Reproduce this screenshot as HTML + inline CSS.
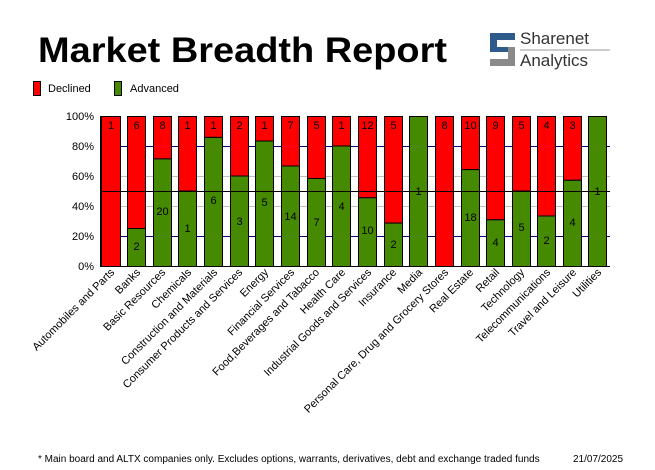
<!DOCTYPE html>
<html><head><meta charset="utf-8"><style>
body{margin:0;background:#fff;}
svg{display:block;font-family:"Liberation Sans",sans-serif;}
</style></head><body>
<svg width="655" height="470" viewBox="0 0 655 470" xmlns="http://www.w3.org/2000/svg">
<rect width="655" height="470" fill="#fff"/>
<text x="38" y="62" font-size="35" font-weight="bold" fill="#000" textLength="409" lengthAdjust="spacingAndGlyphs">Market Breadth Report</text>
<!-- logo -->
<g>
<path d="M490 33 H515 V40 H497 V47 H515 V66 H490 V59 H508 V52 H490 Z" fill="#2f5b8c"/>
<path d="M497 40 H515 V47 H497 Z" fill="#fff"/>
<rect x="490" y="59" width="25" height="7" fill="#8a8a8a"/>
<rect x="508" y="47" width="7" height="19" fill="#8a8a8a"/>
</g>
<text x="520" y="44" font-size="17" fill="#333">Sharenet</text>
<line x1="520" y1="50" x2="610" y2="50" stroke="#999" stroke-width="1"/>
<text x="520" y="66" font-size="17" fill="#333">Analytics</text>
<!-- legend -->
<rect x="33.5" y="81.5" width="7" height="14" fill="#ff0000" stroke="#000"/>
<text x="48" y="92" font-size="11">Declined</text>
<rect x="114.5" y="81.5" width="7" height="14" fill="#458a00" stroke="#000"/>
<text x="130" y="92" font-size="11">Advanced</text>
<!-- grid -->
<line x1="100" y1="146.5" x2="610" y2="146.5" stroke="#000080"/>
<line x1="100" y1="236.5" x2="610" y2="236.5" stroke="#000080"/>
<line x1="100" y1="176.5" x2="610" y2="176.5" stroke="#c0c0c0"/>
<line x1="100" y1="206.5" x2="610" y2="206.5" stroke="#c0c0c0"/>
<g font-size="11" text-anchor="end">
<text x="94" y="120">100%</text><text x="94" y="150">80%</text><text x="94" y="180">60%</text>
<text x="94" y="210">40%</text><text x="94" y="240">20%</text><text x="94" y="270">0%</text>
</g>
<g stroke="#000" stroke-width="1">
<rect x="101.5" y="116.5" width="19" height="150" fill="#ff0000"/>
<rect x="127.5" y="116.5" width="18" height="112" fill="#ff0000"/><rect x="127.5" y="228.5" width="18" height="38" fill="#458a00"/>
<rect x="153.5" y="116.5" width="18" height="42.4" fill="#ff0000"/><rect x="153.5" y="158.9" width="18" height="107.6" fill="#458a00"/>
<rect x="178.5" y="116.5" width="18" height="74.5" fill="#ff0000"/><rect x="178.5" y="191" width="18" height="75.5" fill="#458a00"/>
<rect x="204.5" y="116.5" width="18" height="20.9" fill="#ff0000"/><rect x="204.5" y="137.4" width="18" height="129.1" fill="#458a00"/>
<rect x="230.5" y="116.5" width="18" height="59.5" fill="#ff0000"/><rect x="230.5" y="176" width="18" height="90.5" fill="#458a00"/>
<rect x="255.5" y="116.5" width="18" height="24.5" fill="#ff0000"/><rect x="255.5" y="141" width="18" height="125.5" fill="#458a00"/>
<rect x="281.5" y="116.5" width="18" height="49.5" fill="#ff0000"/><rect x="281.5" y="166" width="18" height="100.5" fill="#458a00"/>
<rect x="307.5" y="116.5" width="18" height="62" fill="#ff0000"/><rect x="307.5" y="178.5" width="18" height="88" fill="#458a00"/>
<rect x="332.5" y="116.5" width="18" height="29.5" fill="#ff0000"/><rect x="332.5" y="146" width="18" height="120.5" fill="#458a00"/>
<rect x="358.5" y="116.5" width="18" height="81.3" fill="#ff0000"/><rect x="358.5" y="197.8" width="18" height="68.7" fill="#458a00"/>
<rect x="384.5" y="116.5" width="18" height="106.6" fill="#ff0000"/><rect x="384.5" y="223.1" width="18" height="43.4" fill="#458a00"/>
<rect x="409.5" y="116.5" width="18" height="150" fill="#458a00"/>
<rect x="435.5" y="116.5" width="18" height="150" fill="#ff0000"/>
<rect x="461.5" y="116.5" width="18" height="53.1" fill="#ff0000"/><rect x="461.5" y="169.6" width="18" height="96.9" fill="#458a00"/>
<rect x="486.5" y="116.5" width="18" height="103.3" fill="#ff0000"/><rect x="486.5" y="219.8" width="18" height="46.7" fill="#458a00"/>
<rect x="512.5" y="116.5" width="18" height="74.5" fill="#ff0000"/><rect x="512.5" y="191" width="18" height="75.5" fill="#458a00"/>
<rect x="537.5" y="116.5" width="18" height="99.5" fill="#ff0000"/><rect x="537.5" y="216" width="18" height="50.5" fill="#458a00"/>
<rect x="563.5" y="116.5" width="18" height="63.8" fill="#ff0000"/><rect x="563.5" y="180.3" width="18" height="86.2" fill="#458a00"/>
<rect x="588.5" y="116.5" width="18" height="150" fill="#458a00"/>
</g>
<line x1="100" y1="191.5" x2="610" y2="191.5" stroke="#000"/>
<line x1="100.5" y1="116" x2="100.5" y2="267" stroke="#000"/>
<line x1="100" y1="266.5" x2="610" y2="266.5" stroke="#000"/>
<g font-size="11" text-anchor="middle">
<text x="111" y="129">1</text>
<text x="136.5" y="129">6</text><text x="136.5" y="250">2</text>
<text x="162.5" y="129">8</text><text x="162.5" y="215">20</text>
<text x="187.5" y="129">1</text><text x="187.5" y="232">1</text>
<text x="213.5" y="129">1</text><text x="213.5" y="204">6</text>
<text x="239.5" y="129">2</text><text x="239.5" y="225">3</text>
<text x="264.5" y="129">1</text><text x="264.5" y="206">5</text>
<text x="290.5" y="129">7</text><text x="290.5" y="220">14</text>
<text x="316.5" y="129">5</text><text x="316.5" y="226">7</text>
<text x="341.5" y="129">1</text><text x="341.5" y="210">4</text>
<text x="367.5" y="129">12</text><text x="367.5" y="234">10</text>
<text x="393.5" y="129">5</text><text x="393.5" y="248">2</text>
<text x="418.5" y="195">1</text>
<text x="444.5" y="129">8</text>
<text x="470.5" y="129">10</text><text x="470.5" y="221">18</text>
<text x="495.5" y="129">9</text><text x="495.5" y="246">4</text>
<text x="521.5" y="129">5</text><text x="521.5" y="231">5</text>
<text x="546.5" y="129">4</text><text x="546.5" y="244">2</text>
<text x="572.5" y="129">3</text><text x="572.5" y="226">4</text>
<text x="597.5" y="195">1</text>
</g>
<g font-size="11" text-anchor="end">
<text transform="translate(115,273) rotate(-45)">Automobiles and Parts</text>
<text transform="translate(141,273) rotate(-45)">Banks</text>
<text transform="translate(166,273) rotate(-45)">Basic Resources</text>
<text transform="translate(192,273) rotate(-45)">Chemicals</text>
<text transform="translate(218,273) rotate(-45)">Construction and Materials</text>
<text transform="translate(243,273) rotate(-45)">Consumer Products and Services</text>
<text transform="translate(269,273) rotate(-45)">Energy</text>
<text transform="translate(295,273) rotate(-45)">Financial Services</text>
<text transform="translate(320,273) rotate(-45)">Food,Beverages and Tabacco</text>
<text transform="translate(346,273) rotate(-45)">Health Care</text>
<text transform="translate(372,273) rotate(-45)">Industrial Goods and Services</text>
<text transform="translate(397,273) rotate(-45)">Insurance</text>
<text transform="translate(423,273) rotate(-45)">Media</text>
<text transform="translate(449,273) rotate(-45)">Personal Care, Drug and Grocery Stores</text>
<text transform="translate(474,273) rotate(-45)">Real Estate</text>
<text transform="translate(500,273) rotate(-45)">Retail</text>
<text transform="translate(525,273) rotate(-45)">Technology</text>
<text transform="translate(551,273) rotate(-45)">Telecommunications</text>
<text transform="translate(577,273) rotate(-45)">Travel and Leisure</text>
<text transform="translate(602,273) rotate(-45)">Utilities</text>
</g>
<text x="38" y="462" font-size="10">* Main board and ALTX companies only. Excludes options, warrants, derivatives, debt and exchange traded funds</text>
<text x="573" y="462" font-size="10">21/07/2025</text>
</svg>
</body></html>
